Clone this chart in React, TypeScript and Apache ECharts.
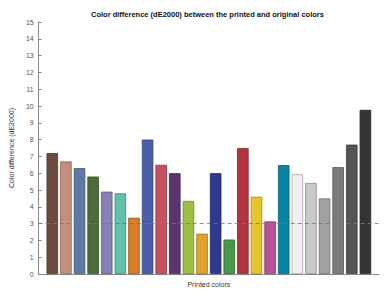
import React, { useEffect, useRef } from "react";
import * as echarts from "echarts";

const titleText = "Color difference (dE2000) between the printed and original colors";
const yLabel = "Color difference (dE2000)";
const xLabel = "Printed colors";
const values = [7.2, 6.7, 6.3, 5.8, 4.9, 4.8, 3.35, 8.0, 6.5, 6.0, 4.35, 2.4, 6.0, 2.05, 7.5, 4.6, 3.13, 6.48, 5.94, 5.42, 4.5, 6.36, 7.7, 9.77];
const colors = [
  "#6c4a3e", "#c38f7c", "#5b7ba6", "#4f6b3c", "#8681b4", "#5ec1a8", "#d97d27", "#4a5ea9",
  "#c5525e", "#5a3670", "#9fbe44", "#e2a22f", "#2f3a8f", "#459749", "#b3333e", "#e9c52c",
  "#ba529b", "#0a84a4", "#f0f0f0", "#c9c9c9", "#a1a1a1", "#7b7b7b", "#545454", "#333333",
];
const threshold = 3;
const yTicks = { min: 0, max: 15, step: 1 };

function darken(hex: string, f: number): string {
  const n = parseInt(hex.slice(1), 16);
  const r = Math.round(((n >> 16) & 255) * f);
  const g = Math.round(((n >> 8) & 255) * f);
  const b = Math.round((n & 255) * f);
  return "rgb(" + r + "," + g + "," + b + ")";
}

export default function App() {
  const ref = useRef<HTMLDivElement>(null);
  useEffect(() => {
    if (!ref.current) return;
    const chart = echarts.init(ref.current, null, { renderer: "svg" });
    const font = "Liberation Sans, Arial, Helvetica, sans-serif";
    chart.setOption({
      animation: false,
      backgroundColor: "#ffffff",
      title: {
        text: titleText,
        left: 86,
        top: 5,
        textStyle: { fontSize: 7.5, fontWeight: "bold", color: "#111", fontFamily: font },
      },
      grid: { left: 26, right: 11, top: 22, bottom: 12, containLabel: false },
      xAxis: {
        type: "value",
        min: 0,
        max: 25,
        name: xLabel,
        nameLocation: "middle",
        nameGap: 7,
        nameTextStyle: { fontSize: 7, color: "#333", fontFamily: font },
        axisLine: { show: true, lineStyle: { color: "#888", width: 1 } },
        axisTick: { show: false },
        axisLabel: { show: false },
        splitLine: { show: false },
      },
      yAxis: {
        type: "value",
        min: yTicks.min,
        max: yTicks.max,
        interval: yTicks.step,
        name: yLabel,
        nameLocation: "middle",
        nameRotate: 90,
        nameGap: 18,
        nameTextStyle: { fontSize: 7, color: "#333", fontFamily: font },
        axisLine: { show: true, lineStyle: { color: "#888", width: 1 } },
        axisTick: { show: true, inside: true, length: 3, lineStyle: { color: "#888" } },
        axisLabel: { fontSize: 7, color: "#555", margin: 5, fontFamily: font },
        splitLine: { show: false },
      },
      series: [
        {
          type: "bar",
          barWidth: 11.5,
          data: values.map((v, i) => ({
            value: [i + 1, v],
            itemStyle: { color: colors[i], borderColor: darken(colors[i], 0.7), borderWidth: 0.8 },
          })),
          markLine: {
            silent: true,
            symbol: "none",
            label: { show: false },
            lineStyle: { type: [4, 3], color: "#777", width: 0.8 },
            data: [{ yAxis: threshold }],
          },
        },
      ],
    });
    return () => chart.dispose();
  }, []);
  return <div ref={ref} style={{ width: 390, height: 293, position: "absolute", left: 0, top: 0 }} />;
}
